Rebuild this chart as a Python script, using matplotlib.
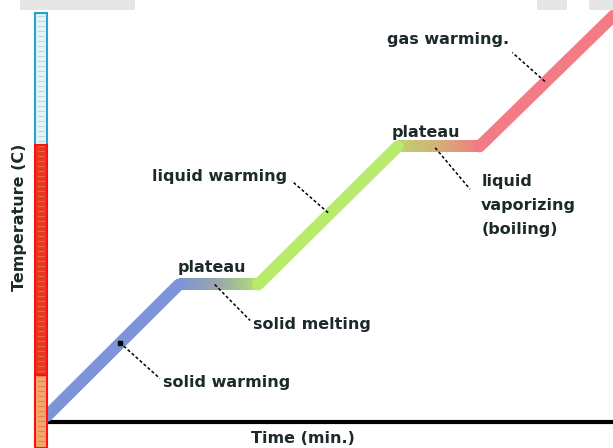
import numpy as np
import matplotlib
matplotlib.use("Agg")
import matplotlib.pyplot as plt
from matplotlib.patches import Rectangle
from matplotlib.colors import LinearSegmentedColormap

# heating curve: time (min) vs temperature (C)
time_pts = [0, 2.5, 4.0, 6.65, 8.2, 10.75]
temp_pts = [-95, 0, 0, 100, 100, 195]
phase_colors = ["#7c95d6", None, "#b8ea6c", None, "#f27b85"]
plateau_grads = [["#7c95d6", "#9aa8a8", "#b4de78"], ["#c0d070", "#d4b078", "#f27b85"]]

labels = ["plateau", "solid melting", "solid warming", "liquid warming", "plateau",
          "liquid\nvaporizing\n(boiling)", "gas warming."]
label_pos = [(2.48, 12), (3.9, -29), (2.2, -71), (1.99, 78), (6.54, 110), (8.23, 57), (6.45, 177.5)]
leader_from = [None, (3.18, 0), (1.38, -42), (5.33, 52), None, (7.36, 99), (9.44, 147)]
leader_to = [None, (3.85, -26), (2.14, -68), (4.64, 75), None, (8.02, 69), (8.82, 168)]

W, H = 613, 448
fig = plt.figure(figsize=(W / 100, H / 100), dpi=100)

# light gray boxes at the very top
for x0, x1 in [(20, 135), (537, 567), (589, 613)]:
    fig.patches.append(Rectangle((x0 / W, 1 - 10 / H), (x1 - x0) / W, 10 / H,
                                 transform=fig.transFigure, color="#e6e6e6", lw=0))

ax = fig.add_axes([47 / W, 26 / H, (W - 47) / W, 422 / H])
for s in ["top", "right", "left"]:
    ax.spines[s].set_visible(False)
ax.spines["bottom"].set_linewidth(3)
ax.set_xticks([])
ax.set_yticks([])
ax.patch.set_alpha(0)

lw = 8.6
half = 4.3
for i in range(len(time_pts) - 1):
    xs = time_pts[i:i + 2]
    ys = temp_pts[i:i + 2]
    if phase_colors[i] is not None:
        ax.plot(xs, ys, color=phase_colors[i], lw=lw, solid_capstyle="round", zorder=3)
    else:
        grad = plateau_grads[i // 2]
        cmap = LinearSegmentedColormap.from_list("g%d" % i, grad)
        ax.imshow(np.linspace(0, 1, 100)[None, :], cmap=cmap, aspect="auto",
                  extent=[xs[0], xs[1], ys[0] - half, ys[0] + half], zorder=2,
                  interpolation="bilinear")
ax.set_xlim(0, 10.73)
ax.set_ylim(-99.5, 206)

txt_color = "#1c2a2c"
for lab, pos, a, b in zip(labels, label_pos, leader_from, leader_to):
    ax.text(pos[0], pos[1], lab, fontsize=11.5, fontweight="bold", color=txt_color,
            ha="left", va="center", linespacing=1.75, zorder=5)
    if a is not None:
        ax.plot([a[0], b[0]], [a[1], b[1]], color="black", lw=1.1,
                linestyle=(0, (2, 1.5)), zorder=4)
ax.plot([1.38], [-42], marker="s", ms=3.5, color="black", zorder=4)

# thermometer on the left
th = [(35, 13, 12, 132, "#dff6fa", "#2a9fd0"),
      (35, 145, 12, 230, "#e8381e", "#ff1010"),
      (35, 375, 12, 73, "#f2a868", "#ff1010")]
for x, y, w, h, fc, ec in th:
    fig.patches.append(Rectangle((x / W, 1 - (y + h) / H), w / W, h / H,
                                 transform=fig.transFigure, fc=fc, ec=ec, lw=1.5))
for yy in range(16, 445, 5):
    fig.lines.append(plt.Line2D([38 / W, 44 / W], [1 - yy / H] * 2, transform=fig.transFigure,
                                color="#c8c8c8" if yy < 145 else "#f07050", lw=0.6))

fig.text(20 / W, 1 - 217 / H, "Temperature (C)", rotation=90, fontsize=11.5,
         fontweight="bold", color=txt_color, ha="center", va="center")
fig.text(303 / W, 1 - 438 / H, "Time (min.)", fontsize=11.5, fontweight="bold",
         color=txt_color, ha="center", va="center")

fig.savefig("out.png", dpi=100)
